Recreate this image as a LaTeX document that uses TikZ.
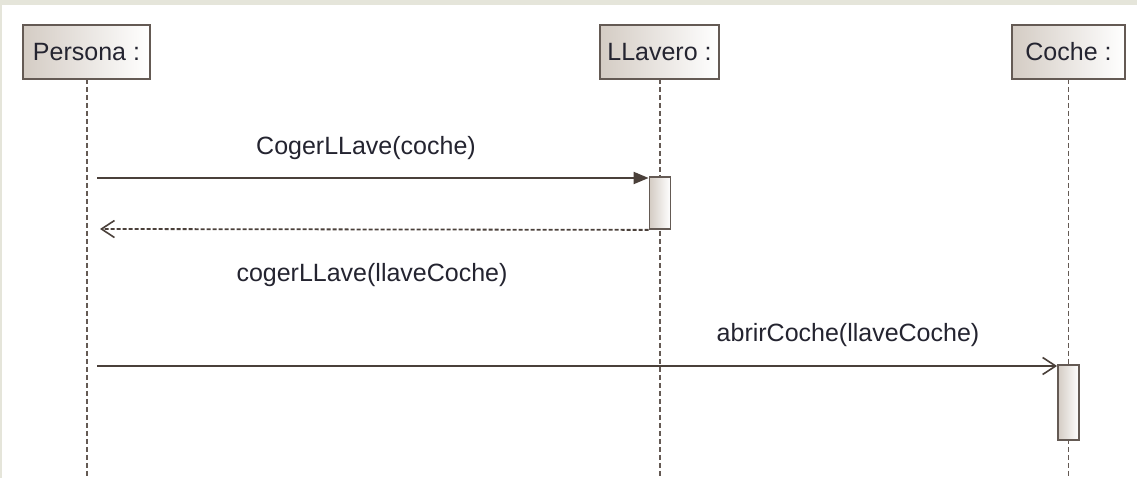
\documentclass[tikz,border=0pt]{standalone}
\usepackage{fontspec}
\setmainfont{Liberation Sans}
\usetikzlibrary{arrows.meta,positioning}
\definecolor{marco}{RGB}{229,229,218}
\definecolor{borde}{RGB}{100,90,84}
\definecolor{linea}{RGB}{74,64,58}
\definecolor{relleno}{RGB}{212,204,196}
\definecolor{texto}{RGB}{36,36,48}
\tikzset{
  objeto/.style={draw=borde, line width=1.8pt, left color=relleno, right color=white,
    minimum height=54pt, inner sep=0pt, font=\fontsize{25}{30}\selectfont, text=texto},
  activo/.style={draw=borde, line width=1.8pt, left color=relleno, right color=white,
    minimum width=21pt, inner sep=0pt},
  vida/.style={draw=borde, line width=1.8pt, dash pattern=on 5pt off 3pt},
  mensaje/.style={draw=linea, line width=2pt},
  sincrono/.style={-{Triangle[length=15pt,width=12pt]}},
  asincrono/.style={-{Straight Barb[length=13pt,width=17pt,line width=1.6pt]}},
  retorno/.style={draw=linea, line width=1.8pt, dash pattern=on 4pt off 2pt, asincrono},
  etiqueta/.style={font=\fontsize{25}{30}\selectfont, text=texto, inner sep=0pt}
}
\begin{document}
\begin{tikzpicture}[x=1pt,y=1pt]
	\useasboundingbox (0,0) rectangle (1137,478);
	\fill[marco] (0,0) rectangle (1137,478);
	\fill[white] (2,0) rectangle (1137,473);

	\node[objeto, minimum width=127pt] (persona) at (86.5,426) {Persona :};
	\node[objeto, minimum width=119pt] (llavero) at (659.5,426) {LLavero :};
	\node[objeto, minimum width=113pt] (coche) at (1068.5,426) {Coche :};

	\coordinate (finPersona) at (87,0);
	\coordinate (finLlavero) at (660,0);
	\coordinate (finCoche) at (1068.5,0);
	\draw[vida] (87,399) to (finPersona);
	\draw[vida] (660,399) to (finLlavero);
	\draw[vida] (1068.5,399) to (finCoche);

	\node[activo, minimum height=52pt] (act1) at (660,275) {};
	\node[activo, minimum height=75pt] (act2) at (1068.5,75.5) {};

	\coordinate (m1) at (97,300);
	\coordinate (r1) at (100,249);
	\coordinate (m2) at (97,112);
	\draw[mensaje, sincrono] (m1) to (m1 -| act1.west);
	\draw[retorno] (act1.south west) to (r1);
	\draw[mensaje, asincrono] (m2) to (m2 -| act2.west);

	\node[etiqueta] (e1) at (366,330) {CogerLLave(coche)};
	\node[etiqueta] (e2) at (372,203) {cogerLLave(llaveCoche)};
	\node[etiqueta] (e3) at (848,143) {abrirCoche(llaveCoche)};
\end{tikzpicture}
\end{document}
